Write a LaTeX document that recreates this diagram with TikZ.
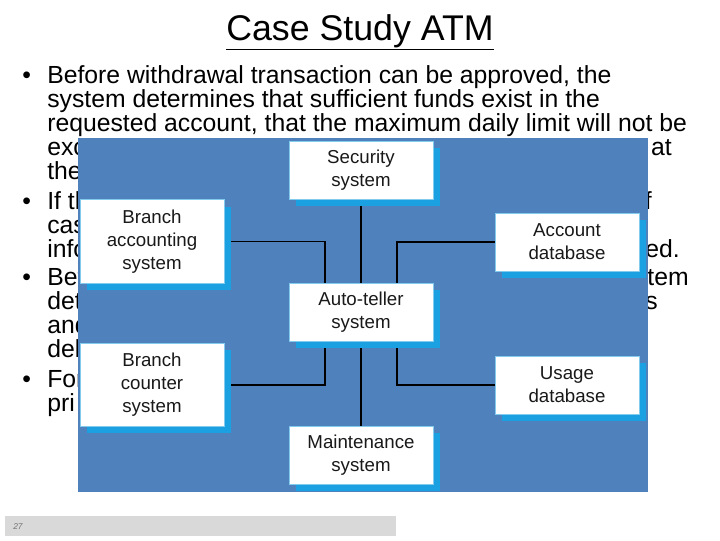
\documentclass[tikz,border=0pt]{standalone}
\usepackage{fontspec}
\setmainfont{Liberation Sans}
\usetikzlibrary{shadows}
\definecolor{panelblue}{HTML}{4F81BD}
\definecolor{boxcyan}{HTML}{1BA1E2}
\definecolor{footgray}{HTML}{D9D9D9}
\pgfdeclarelayer{back}
\pgfdeclarelayer{wires}
\pgfsetlayers{back,wires,main}

\begin{document}
\begin{tikzpicture}[
  x=0.025cm, y=-0.025cm,
  sysbox/.style={rectangle, draw=boxcyan!55, line width=0.6pt, fill=white, minimum width=3.6cm, minimum height=1.45cm, align=center, inner sep=2pt, text=black!90, font=\fontsize{13.3}{16.3}\selectfont, drop shadow={shadow xshift=0.17cm, shadow yshift=-0.17cm, fill=boxcyan, opacity=1}},
  tall/.style={minimum height=2.08cm},
  txt/.style={anchor=base west, inner sep=0pt, font=\fontsize{17.6}{17}\selectfont},
  rtxt/.style={txt, anchor=base east},
  wire/.style={draw=black, line width=1.3pt},
]
  \useasboundingbox (0,0) rectangle (720,540);

  % slide title and bullet text, partly covered by the figure
  \begin{pgfonlayer}{back}
    \node[anchor=base, inner sep=0pt, font=\fontsize{25.4}{28}\selectfont] (title) at (360,40) {\underline{Case Study ATM}};

    \node[txt] (b1) at (22,83) {\textbullet};
    \node[txt] (l1) at (47,83) {Before withdrawal transaction can be approved, the};
    \node[txt] (l2) at (47,107) {system determines that sufficient funds exist in the};
    \node[txt] (l3) at (47,131) {requested account, that the maximum daily limit will not be};
    \node[txt] (l4) at (47,155) {exc};
    \node[rtxt] (r4) at (672,155) {at};
    \node[txt] (l5) at (47,179) {the};

    \node[txt] (b2) at (22,209) {\textbullet};
    \node[txt] (l6) at (47,209) {If th};
    \node[rtxt] (r6) at (652,209) {f};
    \node[txt] (l7) at (47,233) {cas};
    \node[txt] (l8) at (47,257) {info};
    \node[rtxt] (r8) at (680,257) {ed.};

    \node[txt] (b3) at (22,285) {\textbullet};
    \node[txt] (l9) at (47,285) {Bef};
    \node[rtxt] (r9) at (689,285) {tem};
    \node[txt] (l10) at (47,309) {det};
    \node[rtxt] (r10) at (658,309) {s};
    \node[txt] (l11) at (47,333) {and};
    \node[txt] (l12) at (47,357) {del};

    \node[txt] (b4) at (22,387) {\textbullet};
    \node[txt] (l13) at (47,387) {For};
    \node[txt] (l14) at (47,411) {pri};

    \fill[panelblue] (78,138) rectangle (648,492);

    % footer bar
    \fill[footgray] (5,516) rectangle (396,536);
    \node[anchor=west, inner sep=0pt, text=black!55, font=\fontsize{6}{7}\selectfont\itshape] (page) at (13,527) {27};
  \end{pgfonlayer}

  % sub-systems
  \node[sysbox] (sec) at (361,170) {Security\\system};
  \node[sysbox, tall] (bacc) at (152,241.5) {Branch\\accounting\\system};
  \node[sysbox] (accdb) at (567,242) {Account\\database};
  \node[sysbox] (atm) at (361,312.5) {Auto-teller\\system};
  \node[sysbox, tall] (bcnt) at (152,385) {Branch\\counter\\system};
  \node[sysbox] (usedb) at (567,385) {Usage\\database};
  \node[sysbox] (maint) at (361,455) {Maintenance\\system};

  \begin{pgfonlayer}{wires}
    \draw[wire] (sec) -- (atm);
    \draw[wire] (bacc.east) -| ([xshift=-0.9cm]atm.north);
    \draw[wire] (accdb.west) -| ([xshift=0.9cm]atm.north);
    \draw[wire] ([xshift=-0.9cm]atm.south) |- (bcnt.east);
    \draw[wire] ([xshift=0.9cm]atm.south) |- (usedb.west);
    \draw[wire] (atm) -- (maint);
  \end{pgfonlayer}
\end{tikzpicture}
\end{document}
